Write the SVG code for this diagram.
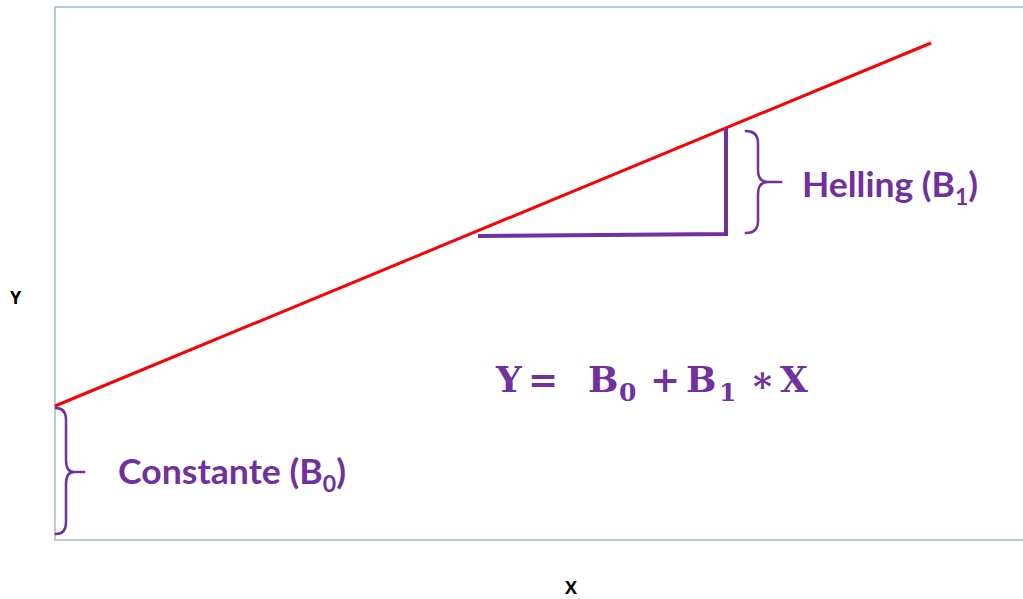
<svg xmlns="http://www.w3.org/2000/svg" width="1023" height="599" viewBox="0 0 1023 599">
<style>
.frame{fill:none;stroke:#b9c9de;stroke-width:2}
.pur{fill:none;stroke:#7030a0;stroke-linecap:square}
.lbl{font-family:Lato,"Open Sans",sans-serif;font-weight:bold;fill:#7030a0}
.eq{font-family:"DejaVu Serif","Liberation Serif",serif;font-weight:bold;fill:#7030a0;font-size:36px}
.sub{font-size:25px}
.ax{font-family:"Open Sans","Liberation Sans",sans-serif;font-weight:bold;fill:#000;font-size:18px}
</style>
<rect width="1023" height="599" fill="#fff"/>
<g id="frame"><path class="frame" d="M1024,7 H55 V540 H1024"/></g>
<g id="connectors">
<line id="regline" x1="55" y1="406" x2="931" y2="43" stroke="#ff0000" stroke-width="3"/>
<path id="triangle" class="pur" stroke-width="4" d="M480,236 L726,234 L726,130"/>
</g>
<g id="helling">
<path class="pur" stroke-width="2.5" d="M746,131 Q758,131 758,143 V170 Q758,182 768,182 H781 M768,182 Q758,182 758,194 V221 Q758,233 746,233"/>
<text class="lbl" x="802" y="197" font-size="34" textLength="176" lengthAdjust="spacingAndGlyphs">Helling (B<tspan font-size="22" dy="8">1</tspan><tspan dy="-8">)</tspan></text>
</g>
<g id="constante">
<path class="pur" stroke-width="2.5" d="M56,408 Q66,408 66,420 V460 Q66,472 74,472 H84 M74,472 Q66,472 66,484 V522 Q66,534 56,534"/>
<text class="lbl" x="118" y="484" font-size="34" textLength="228" lengthAdjust="spacingAndGlyphs">Constante (B<tspan font-size="22" dy="8">0</tspan><tspan dy="-8">)</tspan></text>
</g>
<g id="equation">
<text class="eq" y="392"><tspan x="496">Y</tspan><tspan x="528">=</tspan><tspan x="588">B</tspan><tspan class="sub" x="619" dy="9">0</tspan><tspan x="650" dy="-9">+</tspan><tspan x="686">B</tspan><tspan class="sub" x="719" dy="9">1</tspan><tspan x="750" dy="-9">∗</tspan><tspan x="780">X</tspan></text>
</g>
<g id="axes">
<text class="ax" x="10" y="304">Y</text>
<text class="ax" x="565" y="594">X</text>
</g>
</svg>
